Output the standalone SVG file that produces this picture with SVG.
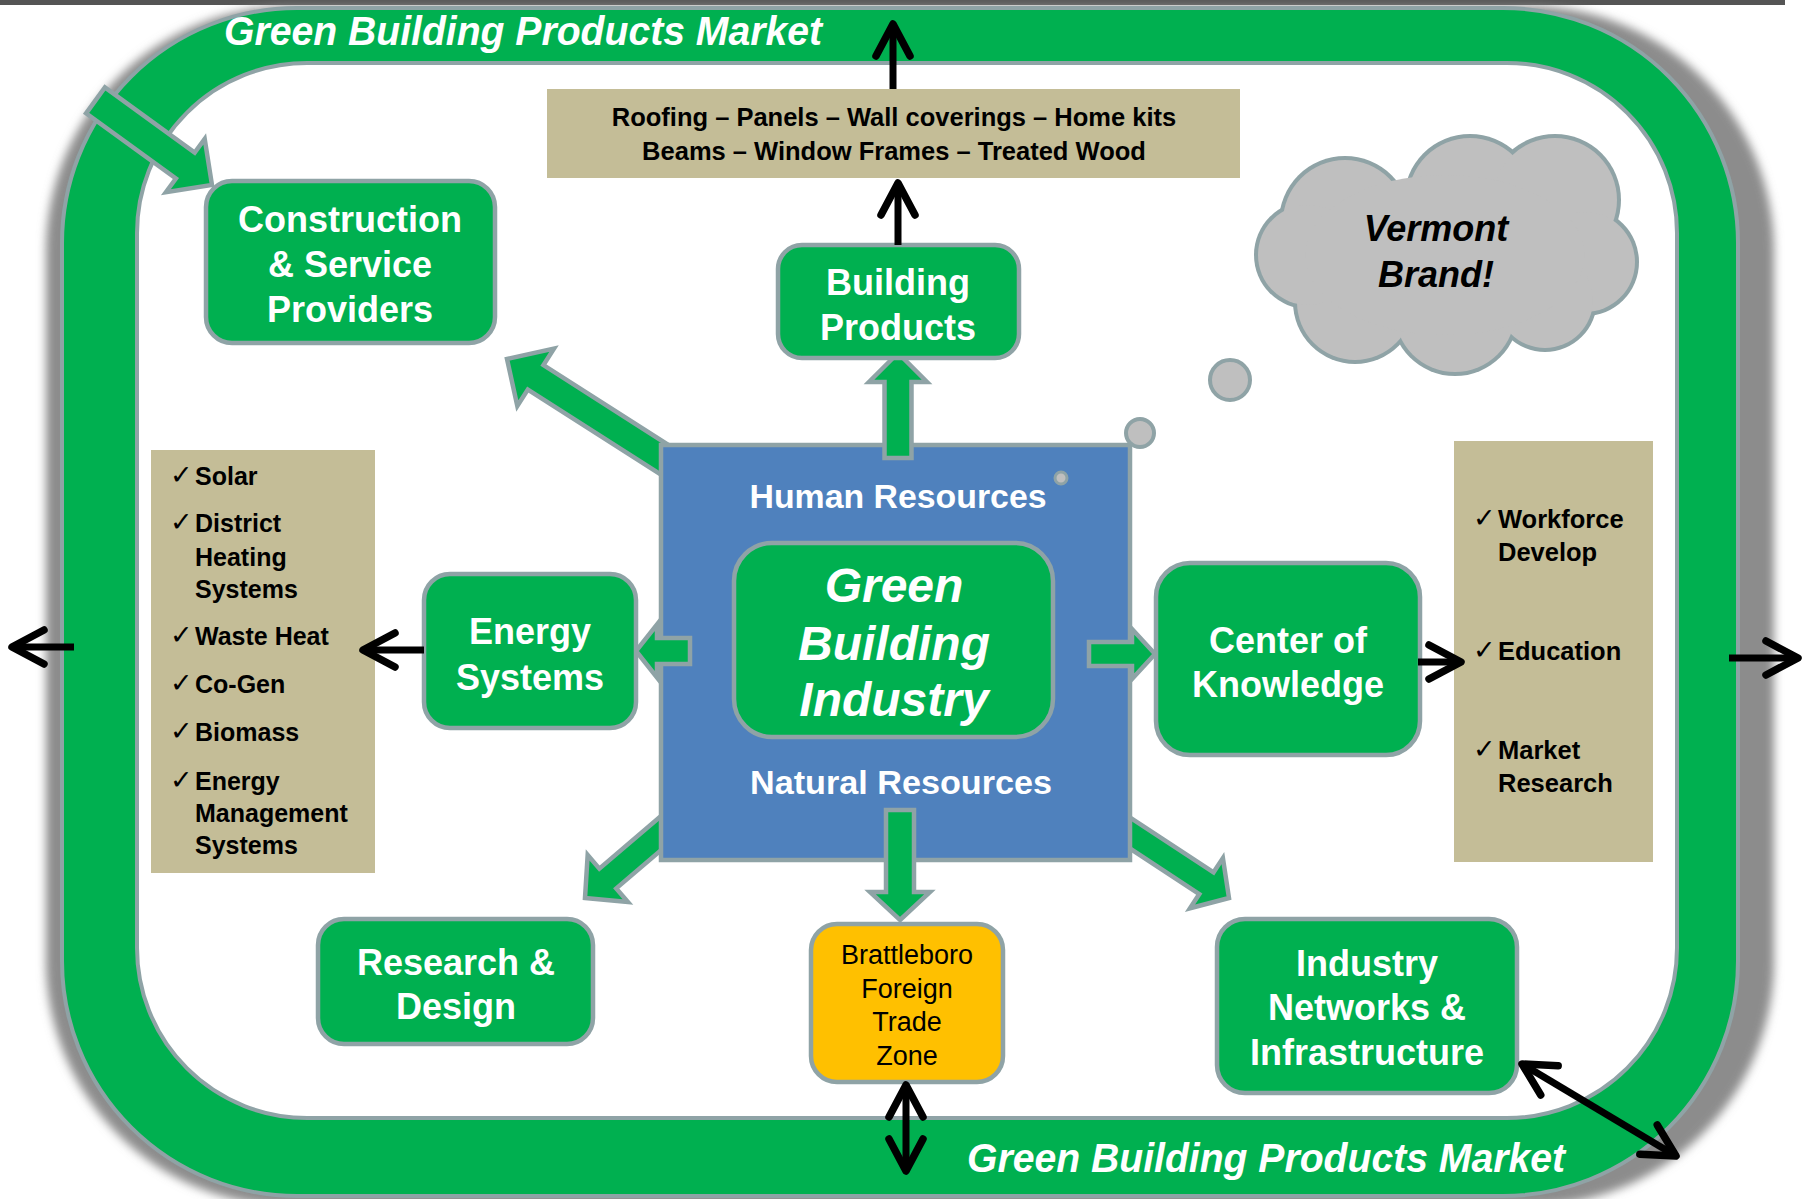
<svg xmlns="http://www.w3.org/2000/svg" width="1812" height="1199" viewBox="0 0 1812 1199">
<defs>
<style>
.gb{fill:#00B050;stroke:#8FA3A6;stroke-width:4.5}
.tan{fill:#C4BD97}
.wt{font-family:"Liberation Sans",Arial,sans-serif;font-weight:bold;fill:#fff;text-anchor:middle}
.bt{font-family:"Liberation Sans",Arial,sans-serif;font-weight:bold;fill:#000}
.ck{font-family:"DejaVu Sans",sans-serif;fill:#000;font-size:27px}
.blk{stroke:#000;stroke-width:7;fill:none;stroke-linecap:butt}
.cs{fill:#8FA3A6}
.cf{fill:#BFBFBF}
</style>
<filter id="blur" x="-5%" y="-5%" width="110%" height="110%"><feGaussianBlur stdDeviation="5"/></filter>
<marker id="ah" markerUnits="userSpaceOnUse" markerWidth="44" markerHeight="44" viewBox="0 0 44 44" refX="38" refY="22" orient="auto-start-reverse" overflow="visible">
<path d="M6,5 L38,22 L6,39" fill="none" stroke="#000" stroke-width="7.5" stroke-linecap="round" stroke-linejoin="round"/>
</marker>
</defs>

<rect x="0" y="0" width="1785" height="5" fill="#555"/>

<g id="market-ring">
<rect x="46" y="6" width="1728" height="1200" rx="245" fill="#8c8c8c" filter="url(#blur)"/>
<rect x="62" y="8" width="1676" height="1188" rx="235" fill="#00B050" stroke="#8FA3A6" stroke-width="4"/>
<rect x="137" y="63" width="1540" height="1055" rx="170" fill="#fff" stroke="#8FA3A6" stroke-width="4"/>
<text class="wt" x="523" y="45" font-size="40" font-style="italic" textLength="598" lengthAdjust="spacingAndGlyphs">Green Building Products Market</text>
<text class="wt" x="1266" y="1172" font-size="40" font-style="italic" textLength="598" lengthAdjust="spacingAndGlyphs">Green Building Products Market</text>
</g>

<g id="connectors">
<path class="gb" transform="translate(212,185) rotate(36)" d="M0,0 L-33,-33 L-33,-16 L-144,-16 L-144,16 L-33,16 L-33,33 Z"/>
<path class="gb" transform="translate(507,359) rotate(212.6)" d="M0,0 L-34,-34 L-34,-14.5 L-200,-14.5 L-200,14.5 L-34,14.5 L-34,34 Z"/>
<path class="gb" transform="translate(585,898) rotate(139.5)" d="M0,0 L-30,-31 L-30,-13 L-120,-13 L-120,13 L-30,13 L-30,31 Z"/>
<path class="gb" transform="translate(1229,898) rotate(33.3)" d="M0,0 L-27,-30 L-27,-13 L-130,-13 L-130,13 L-27,13 L-27,30 Z"/>
</g>

<g id="tan-products">
<rect class="tan" x="547" y="89" width="693" height="89"/>
<text class="bt" x="894" y="126" font-size="25.5" text-anchor="middle">Roofing – Panels – Wall coverings – Home kits</text>
<text class="bt" x="894" y="160" font-size="25.5" text-anchor="middle">Beams – Window Frames – Treated Wood</text>
</g>

<g id="tan-energy">
<rect class="tan" x="151" y="450" width="224" height="423"/>
<g class="ck">
<text x="170" y="484">✓</text><text x="170" y="531">✓</text><text x="170" y="644">✓</text><text x="170" y="692">✓</text><text x="170" y="740">✓</text><text x="170" y="789">✓</text>
</g>
<g class="bt" font-size="25">
<text x="195" y="485">Solar</text>
<text x="195" y="532">District</text>
<text x="195" y="566">Heating</text>
<text x="195" y="598">Systems</text>
<text x="195" y="645">Waste Heat</text>
<text x="195" y="693">Co-Gen</text>
<text x="195" y="741">Biomass</text>
<text x="195" y="790">Energy</text>
<text x="195" y="822">Management</text>
<text x="195" y="854">Systems</text>
</g>
</g>

<g id="tan-knowledge">
<rect class="tan" x="1454" y="441" width="199" height="421"/>
<g class="ck">
<text x="1473" y="527">✓</text><text x="1473" y="659">✓</text><text x="1473" y="758">✓</text>
</g>
<g class="bt" font-size="25.5">
<text x="1498" y="528">Workforce</text>
<text x="1498" y="561">Develop</text>
<text x="1498" y="660">Education</text>
<text x="1498" y="759">Market</text>
<text x="1498" y="792">Research</text>
</g>
</g>

<g id="core">
<rect x="661" y="445" width="469" height="415" fill="#4F81BD" stroke="#8FA3A6" stroke-width="4.5"/>
<text class="wt" x="898" y="508" font-size="33" textLength="297" lengthAdjust="spacingAndGlyphs">Human Resources</text>
<text class="wt" x="901" y="794" font-size="33" textLength="302" lengthAdjust="spacingAndGlyphs">Natural Resources</text>
</g>

<g id="green-building-industry">
<rect class="gb" x="734" y="543" width="319" height="194" rx="38"/>
<g class="wt" font-size="48" font-style="italic">
<text x="894" y="602">Green</text>
<text x="894" y="660">Building</text>
<text x="894" y="716">Industry</text>
</g>
</g>

<g id="core-arrows">
<path class="gb" transform="translate(898,353) rotate(-90)" d="M0,0 L-29,-29 L-29,-13.5 L-105,-13.5 L-105,13.5 L-29,13.5 L-29,29 Z"/>
<path class="gb" transform="translate(900,920) rotate(90)" d="M0,0 L-28,-30 L-28,-14 L-110,-14 L-110,14 L-28,14 L-28,30 Z"/>
<path class="gb" transform="translate(636,651) rotate(180)" d="M0,0 L-21,-26.5 L-21,-13 L-54,-13 L-54,13 L-21,13 L-21,26.5 Z"/>
<path class="gb" transform="translate(1155,654)" d="M0,0 L-23,-25 L-23,-12 L-66,-12 L-66,12 L-23,12 L-23,25 Z"/>
</g>

<g id="construction">
<rect class="gb" x="206" y="181" width="289" height="162" rx="26"/>
<g class="wt" font-size="36"><text x="350" y="232">Construction</text><text x="350" y="277">&amp; Service</text><text x="350" y="322">Providers</text></g>
</g>

<g id="building-products">
<rect class="gb" x="778" y="245" width="241" height="113" rx="24"/>
<g class="wt" font-size="36"><text x="898" y="295">Building</text><text x="898" y="340">Products</text></g>
</g>

<g id="energy-systems">
<rect class="gb" x="424" y="574" width="212" height="154" rx="26"/>
<g class="wt" font-size="36"><text x="530" y="644">Energy</text><text x="530" y="690">Systems</text></g>
</g>

<g id="center-of-knowledge">
<rect class="gb" x="1156" y="563" width="264" height="192" rx="34"/>
<g class="wt" font-size="36"><text x="1288" y="653">Center of</text><text x="1288" y="697">Knowledge</text></g>
</g>

<g id="research-design">
<rect class="gb" x="318" y="919" width="275" height="125" rx="26"/>
<g class="wt" font-size="36"><text x="456" y="975">Research &amp;</text><text x="456" y="1019">Design</text></g>
</g>

<g id="brattleboro">
<rect x="811" y="924" width="192" height="158" rx="26" fill="#FFC000" stroke="#8FA3A6" stroke-width="4.5"/>
<g font-family="'Liberation Sans',Arial,sans-serif" font-size="27" text-anchor="middle" fill="#000">
<text x="907" y="964">Brattleboro</text><text x="907" y="998">Foreign</text><text x="907" y="1031">Trade</text><text x="907" y="1065">Zone</text>
</g>
</g>

<g id="industry-networks">
<rect class="gb" x="1217" y="919" width="300" height="174" rx="28"/>
<g class="wt" font-size="36"><text x="1367" y="976">Industry</text><text x="1367" y="1020">Networks &amp;</text><text x="1367" y="1065">Infrastructure</text></g>
</g>

<g id="black-arrows">
<line class="blk" x1="893" y1="89" x2="893" y2="24" marker-end="url(#ah)"/>
<line class="blk" x1="898" y1="245" x2="898" y2="183" marker-end="url(#ah)"/>
<line class="blk" x1="424" y1="650" x2="363" y2="650" marker-end="url(#ah)"/>
<line class="blk" x1="74" y1="647" x2="12" y2="647" marker-end="url(#ah)"/>
<line class="blk" x1="1418" y1="662" x2="1461" y2="662" marker-end="url(#ah)"/>
<line class="blk" x1="1729" y1="658" x2="1798" y2="658" marker-end="url(#ah)"/>
<line class="blk" x1="906" y1="1085" x2="906" y2="1171" marker-start="url(#ah)" marker-end="url(#ah)"/>
<line class="blk" x1="1522" y1="1064" x2="1676" y2="1156" marker-start="url(#ah)" marker-end="url(#ah)"/>
</g>

<g id="vermont-brand">
<g class="cs">
<circle cx="1345" cy="222" r="66"/><circle cx="1470" cy="200" r="66"/><circle cx="1555" cy="200" r="66"/><circle cx="1585" cy="262" r="54"/>
<circle cx="1545" cy="300" r="52"/><circle cx="1455" cy="312" r="64"/><circle cx="1355" cy="302" r="62"/><circle cx="1308" cy="255" r="54"/>
</g>
<g class="cf">
<circle cx="1345" cy="222" r="62"/><circle cx="1470" cy="200" r="62"/><circle cx="1555" cy="200" r="62"/><circle cx="1585" cy="262" r="50"/>
<circle cx="1545" cy="300" r="48"/><circle cx="1455" cy="312" r="60"/><circle cx="1355" cy="302" r="58"/><circle cx="1308" cy="255" r="50"/>
<ellipse cx="1445" cy="255" rx="140" ry="80"/>
</g>
<g class="bt" font-size="36" font-style="italic" text-anchor="middle"><text x="1436" y="241">Vermont</text><text x="1436" y="287">Brand!</text></g>
<circle cx="1230" cy="380" r="20" fill="#BFBFBF" stroke="#8FA3A6" stroke-width="4"/>
<circle cx="1140" cy="433" r="14" fill="#BFBFBF" stroke="#8FA3A6" stroke-width="4"/>
<circle cx="1061" cy="478" r="6" fill="#BFBFBF" stroke="#8FA3A6" stroke-width="3"/>
</g>
</svg>
